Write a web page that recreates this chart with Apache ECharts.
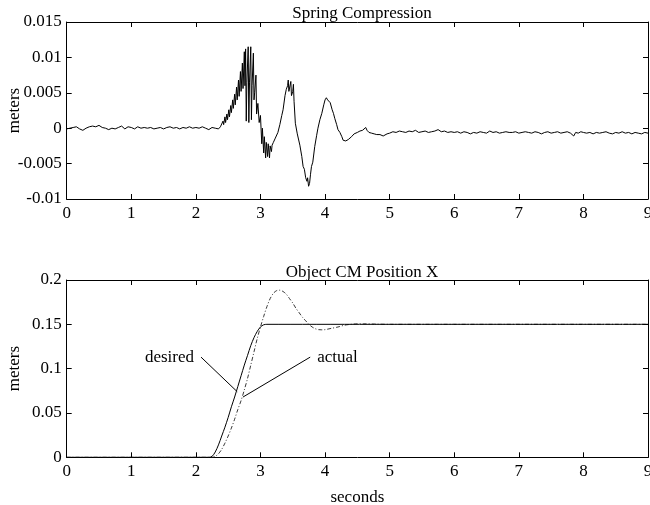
<!DOCTYPE html>
<html>
<head>
<meta charset="utf-8">
<script src="https://cdn.jsdelivr.net/npm/echarts@6/dist/echarts.min.js"></script>
<style>
  html, body { margin: 0; padding: 0; background: #fff; }
  #chart { width: 650px; height: 505px; }
</style>
</head>
<body>
<div id="chart"></div>
<script>
// Deux panneaux façon MATLAB : compression du ressort, puis position X du CM.

const xTicks = [0, 9, 1]; // min, max, pas (secondes)

// [t (s), compression (m)]
const springData = [
  [0.00, -0.0001], [0.05, 0.0000], [0.10, 0.0001], [0.15, 0.0002], [0.20, -0.0001], [0.25, -0.0003],
  [0.30, 0.0000], [0.35, 0.0002], [0.40, 0.0003], [0.45, 0.0002], [0.50, 0.0004], [0.55, 0.0001],
  [0.60, 0.0000], [0.65, -0.0002], [0.70, 0.0000], [0.75, -0.0001], [0.80, 0.0001], [0.85, 0.0003],
  [0.90, -0.0001], [0.95, 0.0002], [1.00, 0.0001], [1.05, -0.0001], [1.10, 0.0002], [1.15, 0.0000],
  [1.20, 0.0001], [1.25, 0.0000], [1.30, 0.0001], [1.35, -0.0001], [1.40, 0.0000], [1.45, 0.0001],
  [1.50, -0.0001], [1.55, 0.0001], [1.60, 0.0002], [1.65, 0.0000], [1.70, 0.0001], [1.75, -0.0001],
  [1.80, 0.0001], [1.85, 0.0000], [1.90, 0.0002], [1.95, 0.0000], [2.00, 0.0001], [2.05, 0.0000],
  [2.10, 0.0002], [2.15, 0.0000], [2.20, -0.0002], [2.25, 0.0001], [2.30, 0.0000], [2.35, -0.0001],
  [2.38, 0.0002],
  // zone de broutement
  [2.40, 0.0003], [2.42, 0.0010], [2.43, 0.0005], [2.45, 0.0016], [2.46, 0.0008], [2.48, 0.0020],
  [2.49, 0.0012], [2.51, 0.0026], [2.52, 0.0016], [2.54, 0.0032], [2.55, 0.0022], [2.57, 0.0040],
  [2.58, 0.0028], [2.60, 0.0048], [2.61, 0.0033], [2.63, 0.0058], [2.64, 0.0040], [2.66, 0.0068],
  [2.67, 0.0045], [2.69, 0.0080], [2.70, 0.0052], [2.72, 0.0092], [2.73, 0.0056], [2.75, 0.0108],
  [2.76, 0.0060], [2.77, 0.0112], [2.78, 0.0010], [2.79, 0.0065], [2.81, 0.0115], [2.82, 0.0008],
  [2.83, 0.0064], [2.85, 0.0115], [2.86, 0.0012], [2.87, 0.0060], [2.89, 0.0106], [2.90, 0.0040],
  [2.91, 0.0050], [2.93, 0.0075], [2.94, 0.0020], [2.96, 0.0035], [2.98, 0.0008], [3.00, 0.0018],
  [3.02, -0.0022], [3.03, 0.0000], [3.05, -0.0035], [3.06, -0.0012], [3.08, -0.0042], [3.09, -0.0020],
  [3.11, -0.0040], [3.12, -0.0022], [3.14, -0.0042], [3.15, -0.0025], [3.17, -0.0033], [3.18, -0.0024],
  // oscillations amorties
  [3.20, -0.0020], [3.23, -0.0014], [3.27, -0.0006], [3.30, 0.0005], [3.33, 0.0018], [3.35, 0.0026],
  [3.38, 0.0046], [3.40, 0.0055], [3.42, 0.0060], [3.43, 0.0068], [3.44, 0.0052], [3.46, 0.0050],
  [3.47, 0.0066], [3.48, 0.0046], [3.50, 0.0052], [3.51, 0.0062], [3.52, 0.0038], [3.54, 0.0007],
  [3.57, -0.0008], [3.61, -0.0024], [3.64, -0.0040], [3.66, -0.0054], [3.68, -0.0058], [3.70, -0.0070],
  [3.72, -0.0075], [3.73, -0.0070], [3.745, -0.0082], [3.76, -0.0078], [3.775, -0.0065], [3.79, -0.0054],
  [3.81, -0.0048], [3.84, -0.0026], [3.87, -0.0010], [3.89, 0.0000], [3.92, 0.0012], [3.95, 0.0021],
  [3.98, 0.0033], [4.00, 0.0040], [4.02, 0.0043], [4.04, 0.0040], [4.06, 0.0039], [4.08, 0.0036],
  [4.11, 0.0026], [4.13, 0.0021], [4.15, 0.0014], [4.18, 0.0005], [4.20, -0.0002], [4.23, -0.0006],
  [4.26, -0.0012], [4.28, -0.0017], [4.30, -0.0019], [4.32, -0.0018], [4.34, -0.0020], [4.36, -0.0016],
  [4.38, -0.0018], [4.41, -0.0012], [4.45, -0.0008], [4.50, -0.0006], [4.54, -0.0004], [4.58, -0.0003],
  [4.61, -0.0001], [4.63, 0.0001], [4.65, -0.0003], [4.68, -0.0006], [4.72, -0.0007], [4.76, -0.0008],
  [4.80, -0.0009], [4.85, -0.0009], [4.90, -0.0011], [4.93, -0.0011], [4.96, -0.0008], [5.00, -0.0007],
  // régime établi
  [5.05, -0.0005], [5.10, -0.0006], [5.15, -0.0004], [5.20, -0.0005], [5.25, -0.0006], [5.30, -0.0004],
  [5.35, -0.0005], [5.40, -0.0003], [5.45, -0.0006], [5.50, -0.0005], [5.55, -0.0004], [5.60, -0.0006],
  [5.65, -0.0005], [5.70, -0.0004], [5.75, -0.0002], [5.78, 0.0000], [5.80, -0.0005], [5.85, -0.0004],
  [5.90, -0.0006], [5.95, -0.0005], [6.00, -0.0006], [6.05, -0.0005], [6.10, -0.0007], [6.15, -0.0005],
  [6.20, -0.0006], [6.25, -0.0008], [6.30, -0.0006], [6.35, -0.0007], [6.40, -0.0005], [6.45, -0.0006],
  [6.50, -0.0007], [6.55, -0.0004], [6.60, -0.0006], [6.65, -0.0005], [6.70, -0.0007], [6.75, -0.0006],
  [6.80, -0.0005], [6.85, -0.0006], [6.90, -0.0006], [6.95, -0.0005], [7.00, -0.0007], [7.05, -0.0006],
  [7.10, -0.0005], [7.15, -0.0006], [7.20, -0.0007], [7.25, -0.0005], [7.30, -0.0006], [7.35, -0.0008],
  [7.40, -0.0006], [7.45, -0.0005], [7.50, -0.0007], [7.55, -0.0006], [7.60, -0.0005], [7.65, -0.0007],
  [7.70, -0.0006], [7.75, -0.0005], [7.80, -0.0007], [7.85, -0.0011], [7.88, -0.0006], [7.92, -0.0007],
  [7.96, -0.0005], [8.00, -0.0006], [8.05, -0.0007], [8.10, -0.0006], [8.15, -0.0008], [8.20, -0.0006],
  [8.25, -0.0007], [8.30, -0.0006], [8.35, -0.0005], [8.40, -0.0007], [8.45, -0.0008], [8.50, -0.0006],
  [8.55, -0.0007], [8.60, -0.0005], [8.65, -0.0007], [8.70, -0.0006], [8.75, -0.0008], [8.80, -0.0006],
  [8.85, -0.0007], [8.90, -0.0008], [8.95, -0.0006], [9.00, -0.0007],
];

// [t (s), position (m)]
const desiredData = [
  [0, 0], [2.20, 0], [2.25, 0.001], [2.30, 0.006], [2.35, 0.014], [2.40, 0.024], [2.45, 0.034],
  [2.50, 0.045], [2.55, 0.057], [2.60, 0.068], [2.65, 0.080], [2.70, 0.092], [2.75, 0.104],
  [2.80, 0.115], [2.85, 0.126], [2.90, 0.135], [2.95, 0.142], [3.00, 0.147], [3.05, 0.1495],
  [3.10, 0.150], [9, 0.150],
];
const actualData = [
  [0, 0], [2.25, 0], [2.30, 0.001], [2.35, 0.004], [2.40, 0.009], [2.45, 0.016], [2.50, 0.024],
  [2.55, 0.033], [2.60, 0.043], [2.65, 0.054], [2.70, 0.064], [2.75, 0.076], [2.80, 0.089],
  [2.85, 0.104], [2.90, 0.119], [2.95, 0.134], [3.00, 0.147], [3.05, 0.159], [3.10, 0.170],
  [3.15, 0.179], [3.20, 0.185], [3.25, 0.188], [3.30, 0.1885], [3.35, 0.187], [3.40, 0.184],
  [3.45, 0.179], [3.50, 0.174], [3.55, 0.168], [3.60, 0.163], [3.65, 0.158], [3.70, 0.154],
  [3.75, 0.150], [3.80, 0.147], [3.85, 0.145], [3.90, 0.144], [3.95, 0.1438], [4.00, 0.144],
  [4.10, 0.1455], [4.20, 0.147], [4.30, 0.149], [4.40, 0.150], [4.50, 0.1505], [4.60, 0.1505],
  [4.80, 0.1502], [5.00, 0.150], [9, 0.150],
];

// Annotations (coordonnées données) : trait + texte
const desiredPointer = [[2.08, 0.113], [2.64, 0.074]];
const actualPointer = [[3.77, 0.113], [2.73, 0.068]];

const FONT = 'Liberation Serif';
const txt = { color: '#000', fontFamily: FONT, fontSize: 17 };

function xAxes(grid) {
  const base = {
    type: 'value', gridIndex: grid, min: xTicks[0], max: xTicks[1], interval: xTicks[2],
    axisLine: { onZero: false, lineStyle: { color: '#000', width: 1 } },
    axisTick: { inside: true, length: 5, lineStyle: { color: '#000' } },
    splitLine: { show: false },
  };
  return [
    { ...base, position: 'bottom', axisLabel: { ...txt, margin: 6 },
      ...(grid === 1 ? { name: 'seconds', nameLocation: 'middle', nameGap: 32,
        nameMoveOverlap: false, nameTextStyle: txt } : {}) },
    { ...base, position: 'top', axisLabel: { show: false } },
  ];
}
function yAxes(grid, min, max, step) {
  const base = {
    type: 'value', gridIndex: grid, min, max, interval: step,
    axisLine: { onZero: false, show: true, lineStyle: { color: '#000', width: 1 } },
    axisTick: { inside: true, length: 5, lineStyle: { color: '#000' } },
    splitLine: { show: false },
  };
  // nameMoveOverlap coupé : sinon v6 écarte le titre d'axe selon la largeur des libellés
  return [
    { ...base, position: 'left', axisLabel: { ...txt, margin: 5 },
      name: 'meters', nameLocation: 'middle', nameGap: 44, nameMoveOverlap: false, nameTextStyle: txt },
    { ...base, position: 'right', axisLabel: { show: false } },
  ];
}

const pointerLine = (data) => ({
  type: 'line', xAxisIndex: 2, yAxisIndex: 2, data, showSymbol: false, silent: true,
  lineStyle: { color: '#000', width: 1 },
});
// scatter a une opacité 0.8 par défaut : on la remet à 1 pour garder le texte noir
const pointerText = (pt, label, side) => ({
  type: 'scatter', xAxisIndex: 2, yAxisIndex: 2, symbolSize: 0, silent: true,
  itemStyle: { opacity: 1 },
  data: [pt],
  label: { show: true, position: side, distance: 7, formatter: label, ...txt },
});

const chart = echarts.init(document.getElementById('chart'), null, { renderer: 'canvas' });
chart.setOption({
  animation: false,
  backgroundColor: '#fff',
  title: [
    { text: 'Spring Compression', left: 357, top: 0, textAlign: 'center',
      textStyle: { ...txt, fontWeight: 'normal' } },
    { text: 'Object CM Position X', left: 357, top: 259, textAlign: 'center',
      textStyle: { ...txt, fontWeight: 'normal' } },
  ],
  grid: [
    { left: 66.7, right: 2, top: 22, height: 177, outerBoundsMode: 'none' },
    { left: 66.7, right: 2, top: 280, height: 177.3, outerBoundsMode: 'none' },
  ],
  xAxis: [...xAxes(0), ...xAxes(1)],
  yAxis: [...yAxes(0, -0.01, 0.015, 0.005), ...yAxes(1, 0, 0.2, 0.05)],
  series: [
    { type: 'line', xAxisIndex: 0, yAxisIndex: 0, data: springData, showSymbol: false,
      lineStyle: { color: '#000', width: 1 } },
    { type: 'line', xAxisIndex: 2, yAxisIndex: 2, data: actualData, showSymbol: false, smooth: 0.3,
      lineStyle: { color: '#222', width: 0.9, type: [4, 2, 1, 2] } },
    { type: 'line', xAxisIndex: 2, yAxisIndex: 2, data: desiredData, showSymbol: false, smooth: 0.3,
      lineStyle: { color: '#000', width: 1 } },
    pointerLine(desiredPointer),
    pointerLine(actualPointer),
    pointerText(desiredPointer[0], 'desired', 'left'),
    pointerText(actualPointer[0], 'actual', 'right'),
  ],
});
</script>
</body>
</html>
